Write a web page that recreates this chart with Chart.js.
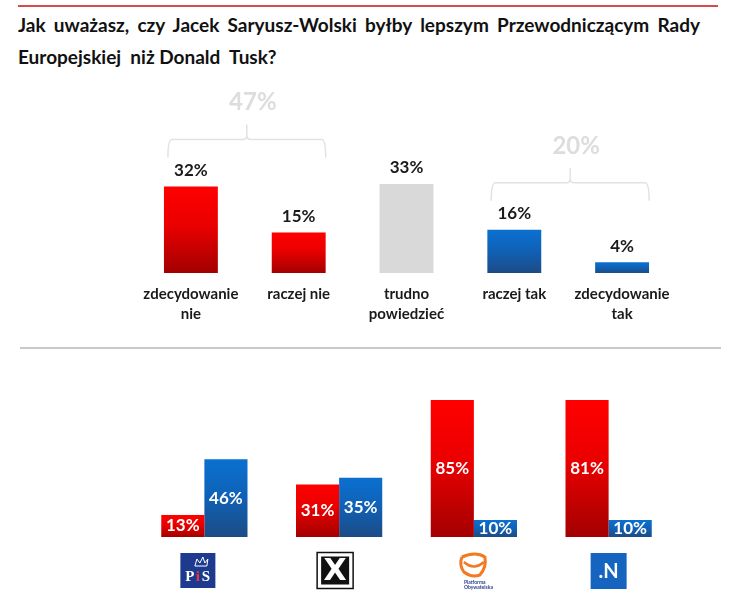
<!DOCTYPE html>
<html>
<head>
<meta charset="utf-8">
<script src="https://cdn.jsdelivr.net/npm/chart.js@4.4.1/dist/chart.umd.min.js"></script>
<style>
    body { margin: 0; background: #fff; width: 735px; height: 611px; overflow: hidden; position: relative; font-family: Lato, sans-serif; }
    #topLine { position: absolute; left: 18px; top: 5px; width: 700px; height: 2px; background: #d64b4b; }
    #title { position: absolute; left: 18px; top: 9px; width: 682px; font-weight: bold; font-size: 19px; line-height: 32px; color: #111; }
    #title .l1 { text-align: justify; text-align-last: justify; white-space: nowrap; }
    #sep { position: absolute; left: 20px; top: 347px; width: 701px; height: 2px; background: #c9c9c9; }
    #c1 { position: absolute; left: 0; top: 80px; }
    #c2 { position: absolute; left: 0; top: 350px; }
</style>
</head>
<body>
<div id="topLine"></div>
<div id="title">
    <div class="l1">Jak uważasz, czy Jacek Saryusz-Wolski byłby lepszym Przewodniczącym Rady</div>
    <div>Europejskiej&nbsp; niż Donald&nbsp; Tusk?</div>
</div>
<canvas id="c1" width="735" height="250"></canvas>
<div id="sep"></div>
<canvas id="c2" width="735" height="261"></canvas>
<script>
// --- data ---
const answerLabels = [['zdecydowanie', 'nie'], 'raczej nie', ['trudno', 'powiedzieć'], 'raczej tak', ['zdecydowanie', 'tak']];
const answerValues = [32, 15, 33, 16, 4];
const answerGroups = [[0, 1], [3, 4]];

const parties = ['PiS', 'Kukiz\'15', 'Platforma Obywatelska', '.N'];
const partyNo = [13, 31, 85, 81];
const partyYes = [46, 35, 10, 10];

// --- styles ---
const answerTones = ['red', 'red', 'gray', 'blue', 'blue'];
const tones = {
    red: ['#ff0000', '#ea0000', '#a30000'],
    blue: ['#0b70d0', '#0f62b8', '#1c4c86'],
    gray: ['#d9d9d9', '#d9d9d9', '#d9d9d9']
};
const FONT = 'Lato, sans-serif';

function gradientFor(tone) {
    return (ctx) => {
        const chart = ctx.chart;
        const area = chart.chartArea;
        const stops = tones[typeof tone === 'function' ? tone(ctx) : tone];
        if (!area || ctx.type !== 'data') return stops[0];
        const y = chart.scales.y;
        const top = Math.max(y.getPixelForValue(ctx.raw), area.top);
        const bottom = y.getPixelForValue(0);
        const g = chart.ctx.createLinearGradient(0, top, 0, bottom);
        g.addColorStop(0, stops[0]);
        g.addColorStop(0.45, stops[1]);
        g.addColorStop(1, stops[2]);
        return g;
    };
}

const topLabels = {
    id: 'topLabels',
    afterDatasetsDraw(chart) {
        const ctx = chart.ctx;
        const meta = chart.getDatasetMeta(0);
        ctx.save();
        ctx.font = 'bold 17px ' + FONT;
        ctx.fillStyle = '#1a1a1a';
        ctx.textAlign = 'center';
        ctx.textBaseline = 'middle';
        meta.data.forEach((bar, i) => {
            ctx.fillText(answerValues[i] + '%', bar.x, bar.y - 16);
        });

        // brackets with group totals
        const y = chart.scales.y;
        answerGroups.forEach(group => {
            const a = meta.data[group[0]];
            const b = meta.data[group[group.length - 1]];
            const vals = group.map(i => answerValues[i]);
            const total = vals.reduce((s, v) => s + v, 0);
            const left = a.x - 23;
            const right = b.x + 27;
            const mid = (left + right) / 2;
            const ends = y.getPixelForValue(Math.max(...vals)) - 29;
            const horiz = ends - 18;
            const tick = horiz - 15;
            ctx.strokeStyle = '#e2e2e2';
            ctx.lineWidth = 1.5;
            ctx.beginPath();
            ctx.moveTo(left, ends);
            ctx.quadraticCurveTo(left, horiz, left + 4, horiz);
            ctx.lineTo(mid - 4, horiz);
            ctx.quadraticCurveTo(mid, horiz, mid, horiz - 4);
            ctx.lineTo(mid, tick);
            ctx.moveTo(mid, horiz - 4);
            ctx.quadraticCurveTo(mid, horiz, mid + 4, horiz);
            ctx.lineTo(right - 4, horiz);
            ctx.quadraticCurveTo(right, horiz, right, ends);
            ctx.stroke();
            ctx.font = 'bold 24px ' + FONT;
            ctx.fillStyle = '#dddddd';
            ctx.fillText(total + '%', mid + 6, tick - 22);
        });
        ctx.restore();
    }
};

new Chart(document.getElementById('c1'), {
    type: 'bar',
    data: {
        labels: answerLabels,
        datasets: [{
            data: answerValues,
            backgroundColor: gradientFor(ctx => answerTones[ctx.dataIndex]),
            borderWidth: 0,
            categoryPercentage: 1,
            barPercentage: 0.5
        }]
    },
    options: {
        responsive: false,
        animation: false,
        layout: { padding: { left: 137, right: 59, top: 58, bottom: 0 } },
        plugins: { legend: { display: false }, tooltip: { enabled: false } },
        scales: {
            x: {
                grid: { display: false, drawTicks: false },
                border: { display: false },
                ticks: {
                    color: '#1a1a1a',
                    padding: 11,
                    maxRotation: 0,
                    autoSkip: false,
                    font: { family: FONT, weight: 'bold', size: 15, lineHeight: '20px' }
                },
                afterFit(scale) { scale.height = 57; }
            },
            y: { display: false, min: 0, max: 50 }
        }
    },
    plugins: [topLabels]
});

function drawLogo(ctx, i, cx, top) {
    ctx.save();
    ctx.textAlign = 'center';
    ctx.textBaseline = 'middle';
    if (i === 0) {
        ctx.fillStyle = '#1e3a8e';
        ctx.fillRect(cx - 24, top, 35, 35);
        const lx = cx - 6.5;
        ctx.strokeStyle = '#fff';
        ctx.lineWidth = 1;
        ctx.beginPath();
        ctx.moveTo(lx - 3, top + 13);
        ctx.lineTo(lx - 1, top + 6);
        ctx.lineTo(lx + 2, top + 10);
        ctx.lineTo(lx + 5, top + 4);
        ctx.lineTo(lx + 7, top + 10);
        ctx.lineTo(lx + 10, top + 6);
        ctx.lineTo(lx + 9, top + 13);
        ctx.closePath();
        ctx.stroke();
        ctx.font = 'bold 15px "Liberation Serif", serif';
        ctx.fillStyle = '#fff';
        ctx.fillText('P', lx - 8, top + 24);
        ctx.fillText('S', lx + 8, top + 24);
        ctx.fillStyle = '#e23a3a';
        ctx.fillText('i', lx, top + 24);
    } else if (i === 1) {
        const x0 = cx - 22;
        ctx.strokeStyle = '#111';
        ctx.lineWidth = 1.5;
        ctx.strokeRect(x0, top - 0.5, 36, 36);
        ctx.fillStyle = '#111';
        ctx.fillRect(x0 + 4, top + 3.5, 28, 28);
        ctx.fillStyle = '#fff';
        ctx.font = 'bold 30px "DejaVu Sans", sans-serif';
        ctx.fillText('X', x0 + 18, top + 19);
    } else if (i === 2) {
        ctx.strokeStyle = '#f27a22';
        ctx.lineWidth = 3;
        ctx.beginPath();
        ctx.moveTo(cx - 12, top + 4);
        ctx.quadraticCurveTo(cx + 2, top - 2, cx + 11, top + 4);
        ctx.quadraticCurveTo(cx + 13, top + 14, cx + 6, top + 22);
        ctx.quadraticCurveTo(cx - 2, top + 25, cx - 10, top + 19);
        ctx.quadraticCurveTo(cx - 15, top + 12, cx - 12, top + 4);
        ctx.stroke();
        ctx.lineWidth = 2.5;
        ctx.beginPath();
        ctx.moveTo(cx - 10, top + 9);
        ctx.quadraticCurveTo(cx, top + 18, cx + 10, top + 9);
        ctx.stroke();
        ctx.fillStyle = '#2b3f8f';
        ctx.font = 'bold 5px ' + FONT;
        ctx.textAlign = 'left';
        ctx.fillText('Platforma', cx - 10, top + 29);
        ctx.fillText('Obywatelska', cx - 10, top + 34);
    } else {
        ctx.fillStyle = '#1565c0';
        ctx.fillRect(cx - 18, top, 36, 36);
        ctx.fillStyle = '#fff';
        ctx.font = 'bold 20px ' + FONT;
        ctx.fillText('.N', cx, top + 19);
    }
    ctx.restore();
}

const partyLabels = {
    id: 'partyLabels',
    afterDatasetsDraw(chart) {
        const ctx = chart.ctx;
        const area = chart.chartArea;
        ctx.save();
        ctx.font = 'bold 17px ' + FONT;
        ctx.fillStyle = '#fff';
        ctx.textAlign = 'center';
        ctx.textBaseline = 'middle';
        chart.data.datasets.forEach((ds, d) => {
            chart.getDatasetMeta(d).data.forEach((bar, i) => {
                const top = Math.max(bar.y, area.top);
                ctx.fillText(ds.data[i] + '%', bar.x, (top + bar.base) / 2);
            });
        });
        ctx.restore();
        const x = chart.scales.x;
        parties.forEach((p, i) => drawLogo(ctx, i, x.getPixelForValue(i), area.bottom + 16));
    }
};

new Chart(document.getElementById('c2'), {
    type: 'bar',
    data: {
        labels: parties,
        datasets: [
            { data: partyNo, backgroundColor: gradientFor('red'), borderWidth: 0 },
            { data: partyYes, backgroundColor: gradientFor('blue'), borderWidth: 0 }
        ]
    },
    options: {
        responsive: false,
        animation: false,
        datasets: { bar: { categoryPercentage: 0.64, barPercentage: 1 } },
        layout: { padding: { left: 137, right: 59, top: 50, bottom: 74 } },
        plugins: { legend: { display: false }, tooltip: { enabled: false } },
        scales: {
            x: { display: false },
            y: { display: false, min: 0, max: 81 }
        }
    },
    plugins: [partyLabels]
});
</script>
</body>
</html>
